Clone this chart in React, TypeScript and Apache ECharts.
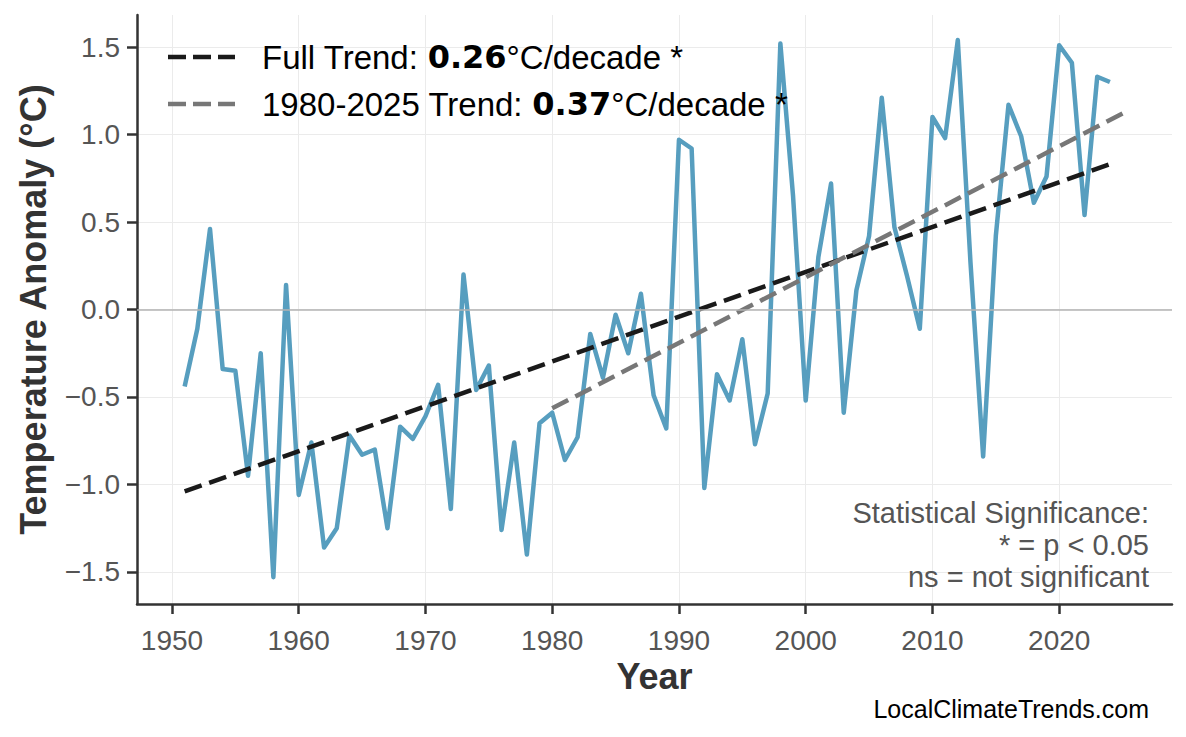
import { useEffect, useRef } from 'react';
import * as echarts from 'echarts';

// Annual temperature anomaly (°C)
const years = [
  1951, 1952, 1953, 1954, 1955, 1956, 1957, 1958, 1959, 1960,
  1961, 1962, 1963, 1964, 1965, 1966, 1967, 1968, 1969, 1970,
  1971, 1972, 1973, 1974, 1975, 1976, 1977, 1978, 1979, 1980,
  1981, 1982, 1983, 1984, 1985, 1986, 1987, 1988, 1989, 1990,
  1991, 1992, 1993, 1994, 1995, 1996, 1997, 1998, 1999, 2000,
  2001, 2002, 2003, 2004, 2005, 2006, 2007, 2008, 2009, 2010,
  2011, 2012, 2013, 2014, 2015, 2016, 2017, 2018, 2019, 2020,
  2021, 2022, 2023, 2024,
];
const anomalies = [
  -0.44, -0.11, 0.46, -0.34, -0.35, -0.95, -0.25, -1.53, 0.14, -1.06,
  -0.76, -1.36, -1.25, -0.72, -0.83, -0.8, -1.25, -0.67, -0.74, -0.61,
  -0.43, -1.14, 0.2, -0.46, -0.32, -1.26, -0.76, -1.4, -0.65, -0.59,
  -0.86, -0.73, -0.14, -0.39, -0.03, -0.25, 0.09, -0.49, -0.68, 0.97,
  0.92, -1.02, -0.37, -0.52, -0.17, -0.77, -0.48, 1.52, 0.65, -0.52,
  0.3, 0.72, -0.59, 0.11, 0.42, 1.21, 0.47, 0.19, -0.11, 1.1,
  0.98, 1.54, 0.27, -0.84, 0.42, 1.17, 0.99, 0.61, 0.76, 1.51,
  1.41, 0.54, 1.33, 1.3,
];

// Trend line end points
const fullTrendYears = [1951, 2024];
const fullTrendValues = [-1.04, 0.83];
const recentTrendYears = [1980, 2025];
const recentTrendValues = [-0.565, 1.12];

// Tick labels
const xTicks = [1950, 1960, 1970, 1980, 1990, 2000, 2010, 2020];
const yTicks = [-1.5, -1.0, -0.5, 0.0, 0.5, 1.0, 1.5];

const FONT = "'Liberation Sans', Arial, Helvetica, sans-serif";

function TemperatureChart() {
  const chartRef = useRef<HTMLDivElement>(null);

  useEffect(() => {
    if (!chartRef.current) return;
    const chart = echarts.init(chartRef.current, null, { renderer: 'svg' });

    const pairs = (xs: number[], ys: number[]) => xs.map((x, i) => [x, ys[i]]);

    const legendRich = {
      r: { fontFamily: FONT, fontSize: 33, fill: '#000000' },
      b: { fontFamily: "'DejaVu Sans', sans-serif", fontSize: 32, fontWeight: 'bold', fill: '#000000' },
    };

    const option: echarts.EChartsOption = {
      animation: false,
      backgroundColor: '#ffffff',
      grid: { left: 137, top: 15, right: 14, bottom: 133 },
      xAxis: {
        type: 'value',
        min: 1947.24,
        max: 2028.9,
        name: 'Year',
        nameLocation: 'middle',
        nameGap: 52,
        nameTextStyle: { fontFamily: FONT, fontSize: 36, fontWeight: 'bold', color: '#333333' },
        axisLine: { show: true, onZero: false, lineStyle: { color: '#333333', width: 2.5 } },
        axisTick: {
          show: true,
          length: 10,
          lineStyle: { color: '#333333', width: 2.5 },
          customValues: xTicks,
        },
        axisLabel: {
          margin: 22,
          fontFamily: FONT,
          fontSize: 28,
          color: '#555555',
          customValues: xTicks,
          formatter: (v: number) => String(v),
        },
        splitLine: { show: true, lineStyle: { color: '#ebebeb', width: 1 } },
      },
      yAxis: {
        type: 'value',
        min: -1.683,
        max: 1.683,
        name: 'Temperature Anomaly (°C)',
        nameLocation: 'middle',
        nameGap: 86,
        nameTextStyle: { fontFamily: FONT, fontSize: 36, fontWeight: 'bold', color: '#333333' },
        axisLine: { show: true, onZero: false, lineStyle: { color: '#333333', width: 2.5 } },
        axisTick: {
          show: true,
          length: 10,
          lineStyle: { color: '#333333', width: 2.5 },
          customValues: yTicks,
        },
        axisLabel: {
          margin: 17,
          fontFamily: FONT,
          fontSize: 28,
          color: '#555555',
          customValues: yTicks,
          formatter: (v: number) => v.toFixed(1).replace('-', '\u2212'),
        },
        splitLine: { show: true, lineStyle: { color: '#ebebeb', width: 1 } },
      },
      series: [
        {
          // zero reference line
          type: 'line',
          data: [],
          z: 1,
          silent: true,
          markLine: {
            silent: true,
            symbol: 'none',
            label: { show: false },
            lineStyle: { color: '#b3b3b3', width: 1.5, type: 'solid' },
            data: [{ yAxis: 0 }],
          },
        },
        {
          name: 'Anomaly',
          type: 'line',
          data: pairs(years, anomalies),
          showSymbol: false,
          z: 2,
          lineStyle: { color: '#579ebf', width: 4.5, join: 'round' },
        },
        {
          name: 'Full Trend',
          type: 'line',
          data: pairs(fullTrendYears, fullTrendValues),
          showSymbol: false,
          z: 3,
          lineStyle: { color: '#1a1a1a', width: 4.5, type: [18, 8] },
        },
        {
          name: '1980-2025 Trend',
          type: 'line',
          data: pairs(recentTrendYears, recentTrendValues),
          showSymbol: false,
          z: 3,
          lineStyle: { color: '#777777', width: 4.5, type: [18, 8] },
        },
      ],
      graphic: [
        {
          type: 'line',
          z: 100,
          shape: { x1: 168, y1: 57, x2: 235, y2: 57 },
          style: { stroke: '#1a1a1a', lineWidth: 4.5, lineDash: [18, 7] },
        },
        {
          type: 'line',
          z: 100,
          shape: { x1: 168, y1: 104, x2: 235, y2: 104 },
          style: { stroke: '#777777', lineWidth: 4.5, lineDash: [18, 7] },
        },
        {
          type: 'text',
          z: 100,
          x: 262,
          y: 57,
          style: {
            text: '{r|Full Trend: }{b|0.26}{r|°C/decade *}',
            verticalAlign: 'middle',
            rich: legendRich,
          },
        },
        {
          type: 'text',
          z: 100,
          x: 262,
          y: 104,
          style: {
            text: '{r|1980-2025 Trend: }{b|0.37}{r|°C/decade *}',
            verticalAlign: 'middle',
            rich: legendRich,
          },
        },
        {
          type: 'text',
          z: 100,
          x: 1149,
          y: 497,
          style: {
            text: 'Statistical Significance:\n* = p < 0.05\nns = not significant',
            align: 'right',
            verticalAlign: 'top',
            lineHeight: 32,
            fontFamily: FONT,
            fontSize: 29,
            fill: '#555555',
          },
        },
        {
          type: 'text',
          z: 100,
          x: 1149,
          y: 709,
          style: {
            text: 'LocalClimateTrends.com',
            align: 'right',
            verticalAlign: 'middle',
            fontFamily: FONT,
            fontSize: 25,
            fill: '#000000',
          },
        },
      ],
    };

    chart.setOption(option);

    return () => {
      chart.dispose();
    };
  }, []);

  return (
    <div
      ref={chartRef}
      style={{ position: 'absolute', left: 0, top: 0, width: '1186px', height: '737px' }}
    />
  );
}

export default function App() {
  return <TemperatureChart />;
}
